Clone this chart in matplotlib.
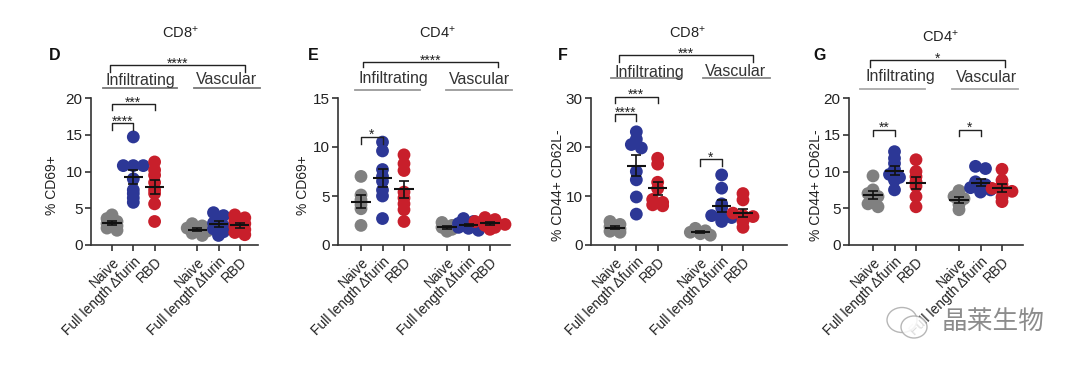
import numpy as np
import matplotlib
matplotlib.use('Agg')
import matplotlib.pyplot as plt
import matplotlib.transforms as mtransforms
from matplotlib.lines import Line2D
from matplotlib.patches import Ellipse

plt.rcParams['font.family'] = ['Liberation Sans', 'DejaVu Sans']
plt.rcParams['mathtext.default'] = 'regular'

# ---------------- data ----------------
tick_labels = ['Naive', 'Full length Δfurin', 'RBD', 'Naive', 'Full length Δfurin', 'RBD']
group_names = ['Infiltrating', 'Vascular']
panel_letters = ['D', 'E', 'F', 'G']
panel_titles = ['CD8$^{+}$', 'CD4$^{+}$', 'CD8$^{+}$', 'CD4$^{+}$']
ylabels = ['% CD69+', '% CD69+', '% CD44+ CD62L-', '% CD44+ CD62L-']
ymaxes = [20, 15, 30, 20]
ytick_steps = [5, 5, 10, 5]

d_naive_inf = [4.1, 3.6, 3.2, 2.9, 2.6, 2.3, 2.0]
d_full_inf = [14.7, 10.8, 10.8, 10.8, 9.0, 7.5, 7.0, 6.4, 5.8]
d_rbd_inf = [11.3, 10.2, 9.5, 8.5, 7.5, 7.0, 5.6, 3.2]
d_naive_vas = [2.9, 2.6, 2.3, 2.1, 1.9, 1.6, 1.3]
d_full_vas = [4.4, 4.0, 3.5, 3.0, 2.6, 2.2, 1.8, 1.3]
d_rbd_vas = [4.1, 3.7, 3.3, 2.9, 2.5, 2.1, 1.7, 1.4]

e_naive_inf = [7.0, 5.1, 4.6, 4.1, 3.7, 2.0]
e_full_inf = [10.5, 9.6, 7.7, 7.0, 6.5, 5.6, 5.0, 2.7]
e_rbd_inf = [9.2, 8.3, 7.6, 5.4, 4.8, 4.2, 3.6, 2.4]
e_naive_vas = [2.3, 2.0, 1.8, 1.6, 1.4]
e_full_vas = [2.7, 2.4, 2.2, 2.0, 2.0, 1.8, 1.7, 1.5]
e_rbd_vas = [2.8, 2.6, 2.4, 2.3, 2.2, 2.1, 2.0, 1.8, 1.6]

f_naive_inf = [4.8, 4.2, 3.7, 3.3, 2.8, 2.6]
f_full_inf = [23.1, 21.6, 20.5, 19.8, 15.0, 13.3, 9.8, 6.3]
f_rbd_inf = [17.7, 16.5, 12.8, 11.5, 9.3, 8.7, 8.2, 8.0]
f_naive_vas = [3.4, 2.9, 2.6, 2.3, 2.0]
f_full_vas = [14.3, 11.6, 8.4, 7.6, 6.0, 5.8, 5.6, 4.8]
f_rbd_vas = [10.5, 9.2, 6.5, 6.0, 5.8, 5.6, 4.8, 3.6]

g_naive_inf = [9.4, 7.5, 7.0, 6.6, 6.3, 5.6, 5.2]
g_full_inf = [12.7, 11.8, 11.1, 10.3, 9.6, 9.2, 8.8, 7.5]
g_rbd_inf = [11.6, 10.0, 9.3, 8.6, 8.0, 6.6, 5.2]
g_naive_vas = [7.4, 6.6, 6.3, 6.0, 5.5, 4.8]
g_full_vas = [10.7, 10.4, 8.6, 8.2, 7.8, 7.6, 7.5, 7.2]
g_rbd_vas = [10.3, 8.8, 8.2, 7.7, 7.4, 7.3, 6.5, 5.9]

panel_data = [
    [d_naive_inf, d_full_inf, d_rbd_inf, d_naive_vas, d_full_vas, d_rbd_vas],
    [e_naive_inf, e_full_inf, e_rbd_inf, e_naive_vas, e_full_vas, e_rbd_vas],
    [f_naive_inf, f_full_inf, f_rbd_inf, f_naive_vas, f_full_vas, f_rbd_vas],
    [g_naive_inf, g_full_inf, g_rbd_inf, g_naive_vas, g_full_vas, g_rbd_vas],
]

# in-axes significance: (group i, group j, label)
panel_sig = [
    [(0, 1, '****'), (0, 2, '***')],
    [(0, 1, '*')],
    [(0, 1, '****'), (0, 2, '***'), (3, 4, '*')],
    [(0, 1, '**'), (3, 4, '*')],
]
top_sig = ['****', '****', '***', '*']

# ---------------- styling / layout ----------------
W, H = 1080, 371
positions = [0, 1, 2, 4, 5, 6]
colors = ['#808080', '#2c3796', '#c81f2b'] * 2
text_c = '#222222'

# per-panel layout in pixels
ax_px = [(91, 258), (338, 510), (591, 787), (849, 1023)]
tick0 = [112, 361, 615, 873]
spacing = [21.3, 21.5, 21.33, 21.5]
ax_top, ax_bot = 98, 245
sig_y = [[16.6, 19.2], [11.05], [26.7, 30.3, 17.5], [15.7, 15.7]]
sig_drop = [0.9, 0.75, 1.3, 0.9]
title_pos = [(180, 33), (437, 33), (687, 33), (940, 37)]
letter_pos = [(55, 55), (313, 55), (563, 55), (820, 55)]
bracket = [(110, 245, 65, 72), (363, 498, 62, 67), (619, 753, 55, 62), (870, 1005, 60, 67)]
inf_lab = [(140, 80), (393, 79), (649, 72), (900, 77)]
inf_line = [(103, 177, 88), (355, 420, 90), (611, 680, 78), (860, 925, 89)]
vas_lab = [(226, 80), (479, 79), (735, 72), (986, 77)]
vas_line = [(194, 260, 88), (446, 512, 90), (703, 770, 78), (952, 1018, 89)]
line_cols = ['#777777', '#9a9a9a', '#888888', '#aaaaaa']
ylab_x = [52, 303, 558, 816]
ylab_size = [10, 10, 10, 10]

fig = plt.figure(figsize=(W / 100, H / 100), dpi=100)


def fx(px):
    return px / W


def fy(py):
    return 1 - py / H


def fig_line(xs, ys, color=text_c, lw=1.0):
    fig.add_artist(Line2D([fx(x) for x in xs], [fy(y) for y in ys],
                          transform=fig.transFigure, color=color, lw=lw))


def swarm_x(ax, x0, vals, diam_px):
    """Spread points that share nearly the same value horizontally."""
    vals = np.asarray(vals, float)
    order = np.argsort(-vals)
    disp = ax.transData.transform(np.column_stack([np.full(len(vals), x0), vals]))
    xs = np.full(len(vals), float(x0))
    bins = []
    for i in order:
        if bins and abs(disp[bins[-1][0], 1] - disp[i, 1]) < 0.28 * diam_px:
            bins[-1].append(i)
        else:
            bins.append([i])
    inv = ax.transData.inverted()
    for b in bins:
        n = len(b)
        for k, i in enumerate(b):
            off = (k - (n - 1) / 2) * 0.8 * diam_px
            xs[i] = inv.transform((disp[i, 0] + off, disp[i, 1]))[0]
    return xs


diam = 12.5
for p in range(4):
    l, r = ax_px[p]
    ax = fig.add_axes([fx(l), fy(ax_bot), (r - l) / W, (ax_bot - ax_top) / H])
    t0, sp = tick0[p], spacing[p]
    ax.set_xlim((l - t0) / sp, (r - t0) / sp)
    ax.set_ylim(0, ymaxes[p])
    for s in ['top', 'right']:
        ax.spines[s].set_visible(False)
    for s in ['left', 'bottom']:
        ax.spines[s].set_linewidth(1.2)
        ax.spines[s].set_color('#333333')
    ax.set_yticks(np.arange(0, ymaxes[p] + 0.1, ytick_steps[p]))
    ax.set_xticks(positions)
    ax.set_xticklabels(tick_labels, rotation=45, ha='right', rotation_mode='anchor',
                       fontsize=10, color=text_c)
    ax.tick_params(axis='both', direction='out', length=4, width=1.2, color='#333333')
    ax.tick_params(axis='y', labelsize=11, labelcolor=text_c, pad=2)
    ax.tick_params(axis='x', pad=3)

    for g, vals in enumerate(panel_data[p]):
        xs = swarm_x(ax, positions[g], vals, diam)
        ax.scatter(xs, vals, s=85, color=colors[g], edgecolors='none', zorder=2,
                   clip_on=False)
        m = np.mean(vals)
        sem = np.std(vals, ddof=1) / np.sqrt(len(vals))
        ax.hlines(m, positions[g] - 0.45, positions[g] + 0.45, color='#111111',
                  lw=1.5, zorder=4)
        ax.errorbar(positions[g], m, yerr=sem, fmt='none', ecolor='#111111',
                    elinewidth=1.2, capsize=3.6, capthick=1.2, zorder=4)

    star_tr = mtransforms.offset_copy(ax.transData, fig=fig, x=0, y=-2.5, units='dots')
    for k, (i, j, lab) in enumerate(panel_sig[p]):
        yv = sig_y[p][k]
        x1, x2 = positions[i], positions[j]
        ax.plot([x1, x1, x2, x2], [yv - sig_drop[p], yv, yv, yv - sig_drop[p]],
                color=text_c, lw=1.0, clip_on=False, zorder=3)
        ax.text((x1 + x2) / 2, yv, lab, transform=star_tr, ha='center',
                va='baseline', fontsize=10, color=text_c)

    ax.set_ylabel(ylabels[p], fontsize=ylab_size[p], color=text_c)
    ax.yaxis.set_label_coords(fx(ylab_x[p]), 0.5, transform=fig.transFigure)
    ax.yaxis.label.set_va('center')

    # title, letter
    fig.text(fx(title_pos[p][0]), fy(title_pos[p][1]), panel_titles[p], ha='center',
             va='center', fontsize=10.5, color=text_c)
    fig.text(fx(letter_pos[p][0]), fy(letter_pos[p][1]), panel_letters[p], ha='center',
             va='center', fontsize=11.5, fontweight='bold', color='#111111')
    # top bracket
    bx1, bx2, by, bd = bracket[p]
    fig_line([bx1, bx1, bx2, bx2], [bd, by, by, bd], lw=1.0)
    fig.text(fx((bx1 + bx2) / 2), fy(by + 2.5), top_sig[p], ha='center', va='baseline',
             fontsize=10, color=text_c)
    # group labels
    fig.text(fx(inf_lab[p][0]), fy(inf_lab[p][1]), group_names[0], ha='center',
             va='center', fontsize=11.5, color='#333333')
    fig.text(fx(vas_lab[p][0]), fy(vas_lab[p][1]), group_names[1], ha='center',
             va='center', fontsize=11.5, color='#333333')
    fig_line(inf_line[p][:2], [inf_line[p][2]] * 2, color=line_cols[p], lw=1.3)
    fig_line(vas_line[p][:2], [vas_line[p][2]] * 2, color=line_cols[p], lw=1.3)

# watermark
for (cx, cy, w, h) in [(902, 320, 30, 25), (914, 327, 26, 22)]:
    e = Ellipse((fx(cx), fy(cy)), w / W, h / H, transform=fig.transFigure,
                facecolor='white', edgecolor='#aaaaaa', lw=1.0, alpha=0.85)
    fig.add_artist(e)
fig.text(fx(993), fy(322), '晶莱生物', ha='center', va='center', fontsize=18.5,
         color='#8c8c8c', family=['Noto Sans CJK SC', 'DejaVu Sans'])

fig.savefig('out.png', dpi=100)
